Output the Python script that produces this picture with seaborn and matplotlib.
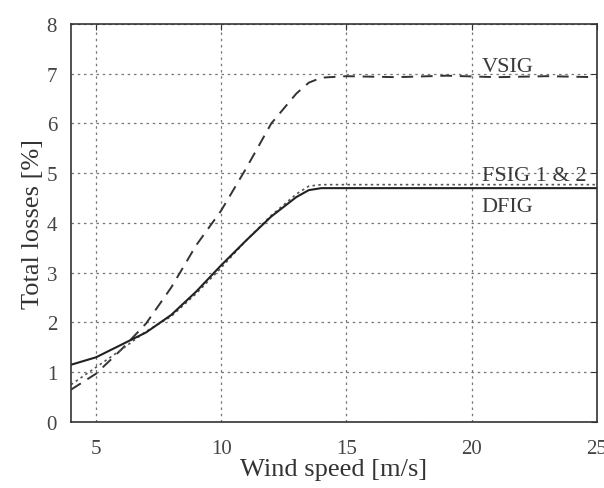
import matplotlib
matplotlib.use("Agg")
import matplotlib.pyplot as plt
import seaborn as sns
import pandas as pd

# wind speed points
wind = [4, 5, 6, 7, 8, 9, 10, 11, 12, 13, 13.5, 14, 15, 17, 19, 21, 23, 25]

# total losses [%] per generator type
vsig = [0.65, 0.97, 1.45, 1.98, 2.7, 3.55, 4.25, 5.1, 6.0, 6.6, 6.82, 6.92, 6.95, 6.93, 6.96, 6.93, 6.95, 6.93]
fsig = [0.75, 1.1, 1.45, 1.82, 2.12, 2.58, 3.1, 3.65, 4.15, 4.58, 4.74, 4.77, 4.77, 4.77, 4.77, 4.77, 4.77, 4.77]
dfig = [1.15, 1.3, 1.55, 1.8, 2.15, 2.62, 3.15, 3.65, 4.13, 4.52, 4.66, 4.70, 4.70, 4.70, 4.70, 4.70, 4.70, 4.70]

xticks = [5, 10, 15, 20, 25]
yticks = [0, 1, 2, 3, 4, 5, 6, 7, 8]

sns.set_style("white")
plt.rcParams["font.family"] = ["Liberation Serif", "DejaVu Serif"]

fig = plt.figure(figsize=(6.04, 4.89), dpi=100)
ax = fig.add_axes([0.1175, 0.135, 0.8705, 0.814])

df = pd.DataFrame({"wind": wind, "VSIG": vsig, "FSIG": fsig, "DFIG": dfig})
sns.lineplot(data=df, x="wind", y="VSIG", ax=ax, color="#333333", lw=1.4, linestyle=(0, (6, 4)))
sns.lineplot(data=df, x="wind", y="FSIG", ax=ax, color="#555555", lw=1.2, linestyle=(0, (1.5, 2)))
sns.lineplot(data=df, x="wind", y="DFIG", ax=ax, color="#222222", lw=1.5)

ax.set_xlim(4, 25)
ax.set_ylim(0, 8)
ax.set_xticks(xticks)
ax.set_yticks(yticks)
ax.grid(True, color="#777777", linestyle=(0, (2, 3)), lw=0.9)
ax.tick_params(direction="in", length=4, labelsize=15, colors="#333333",
               top=True, right=True, labelcolor="#444444")
ax.tick_params(axis="x", pad=12)
ax.tick_params(axis="y", pad=10)
for s in ax.spines.values():
    s.set_color("#333333")
    s.set_linewidth(1.2)

ax.set_xlabel("Wind speed [m/s]", fontsize=19, color="#333333", labelpad=0)
ax.set_ylabel("Total losses [%]", fontsize=19, color="#333333", labelpad=2)

ax.text(20.4, 7.05, "VSIG", fontsize=16, color="#3a3a3a")
ax.text(20.4, 4.86, "FSIG 1 & 2", fontsize=16, color="#3a3a3a")
ax.text(20.4, 4.25, "DFIG", fontsize=16, color="#3a3a3a")

fig.savefig("out.png", dpi=100)
